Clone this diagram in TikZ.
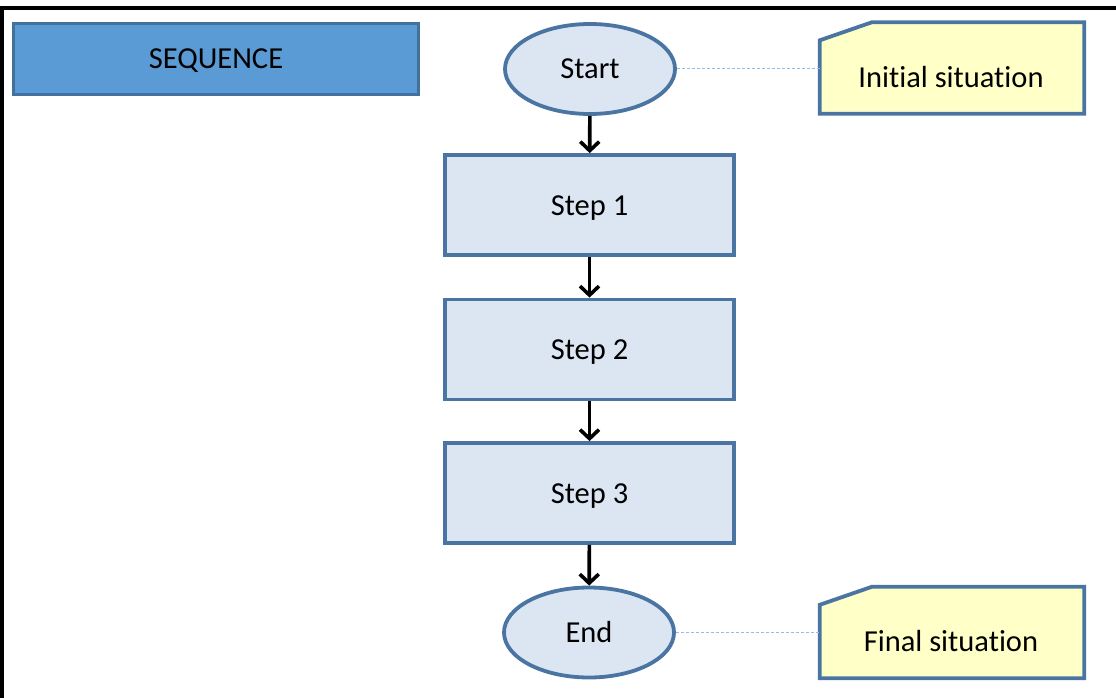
\documentclass[tikz,border=0pt]{standalone}
\usepackage{fontspec}
\setmainfont{Carlito}[Ligatures=NoCommon]
\usetikzlibrary{arrows.meta,shapes.geometric}
\definecolor{hdrfill}{HTML}{5B9BD5}
\definecolor{hdrline}{HTML}{41719C}
\definecolor{boxfill}{HTML}{DCE6F2}
\definecolor{boxline}{HTML}{4A75A2}
\definecolor{notefill}{HTML}{FFFFC8}
\definecolor{linkline}{HTML}{8CBDEB}
\tikzset{
  txt/.style={font=\fontsize{30.5}{35}\selectfont, text=black,
    text height=20pt, text depth=0pt},
  header/.style={txt, draw=hdrline, fill=hdrfill, line width=3pt,
    minimum width=405pt, minimum height=71pt, inner sep=0pt},
  stepbox/.style={txt, draw=boxline, fill=boxfill, line width=3.8pt,
    minimum width=289pt, minimum height=100pt, inner sep=0pt},
  terminal/.style={txt, ellipse, draw=boxline, fill=boxfill, line width=3.8pt,
    minimum width=170pt, minimum height=90pt, inner sep=0pt},
  noteframe/.style={minimum width=264pt, minimum height=91pt, inner sep=0pt},
  noteshape/.style={draw=boxline, fill=notefill, line width=3.8pt, line join=miter},
  flow/.style={black, line width=3.6pt,
    -{Straight Barb[length=9pt,width=19pt,line width=3.6pt]}},
  link/.style={linkline, line width=1pt, dash pattern=on 3pt off 2pt},
  frame/.style={black, line width=4pt}
}
\begin{document}
\begin{tikzpicture}[x=1pt,y=-1pt]
  \useasboundingbox (0,0) rectangle (1116,698);
  \fill[white] (0,0) rectangle (1116,698);

  % outer frame: top and left edges only
  \draw[frame] (0,8) -- (1116,8);
  \draw[frame] (2,6) -- (2,698);

  % title box
  \node[header] (seqhdr) at (216,59) {SEQUENCE};

  % flow of the sequence
  \node[terminal] (start) at (590,69) {Start};
  \node[stepbox] (s1) at (589.5,205) {Step 1};
  \node[stepbox] (s2) at (589.5,349.5) {Step 2};
  \node[stepbox] (s3) at (589.5,493) {Step 3};
  \node[terminal] (finish) at (589,632.5) {End};

  \draw[flow] (start) -- (s1);
  \draw[flow] (s1) -- (s2);
  \draw[flow] (s2) -- (s3);
  \draw[flow] (s3) -- (finish);

  % notes with a cut top-left corner
  \node[noteframe] (initnote) at (952,68) {};
  \node[noteframe] (finalnote) at (952,632.5) {};
  \foreach \n in {initnote,finalnote}{
    \draw[noteshape] (\n.south west) -- (\n.south east) -- (\n.north east)
      -- ([xshift=52pt]\n.north west) -- ([yshift=-18pt]\n.north west) -- cycle;
  }
  \node[txt] (inittext) at (951,77.5) {Initial situation};
  \node[txt] (finaltext) at (951,641.5) {Final situation};

  % dotted links from terminals to notes
  \draw[link] (start.east) -- (start.east -| initnote.west);
  \draw[link] (finish.east) -- (finish.east -| finalnote.west);
\end{tikzpicture}
\end{document}
